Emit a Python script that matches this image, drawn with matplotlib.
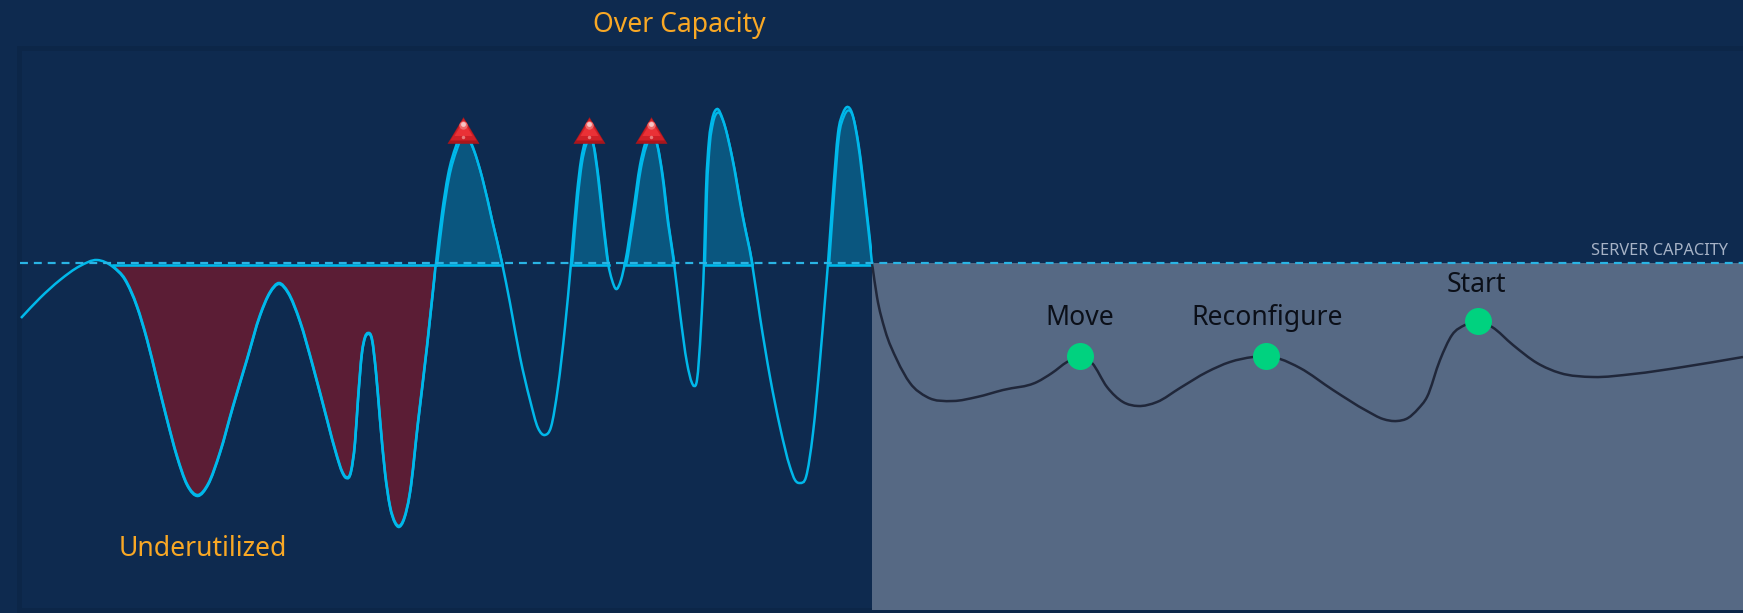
import matplotlib
matplotlib.use('Agg')
import matplotlib.pyplot as plt
from matplotlib.patches import PathPatch, Rectangle
from matplotlib.path import Path
import numpy as np

# values, y runs downwards like in the image
load_x = [21, 40, 60, 80, 97, 113, 125, 137, 147, 157, 167, 177, 187, 198, 208, 220, 233, 247, 260, 270,
          279, 288, 300, 313, 327, 337, 342, 346, 351, 355, 358, 362, 365, 368, 372, 376, 380, 385, 390, 395,
          399, 403, 410, 418, 427, 436, 442, 448, 456, 463, 472, 482, 492, 502, 510, 520, 530, 538, 545, 551,
          558, 565, 571, 577, 581, 585, 589, 593, 598, 603, 608, 612, 616, 621, 625, 633, 640, 645, 651, 657,
          662, 668, 674, 680, 687, 692, 694, 697, 701, 704, 706, 709, 712, 717, 723, 732, 742, 752, 760, 770,
          780, 790, 795, 800, 806, 813, 820, 825, 828, 833, 838, 843, 847, 852, 858, 865, 872]
load_y = [318, 298, 280, 266, 260, 267, 280, 307, 340, 380, 420, 457, 485, 496, 485, 453, 407, 360, 316, 293,
          284, 293, 322, 367, 420, 457, 472, 478, 472, 443, 400, 353, 338, 334, 340, 373, 420, 473, 507, 523,
          527, 522, 493, 423, 347, 263, 213, 175, 146, 131, 145, 177, 220, 263, 303, 357, 400, 428, 435, 427,
          387, 327, 263, 193, 160, 142, 135, 143, 177, 223, 263, 280, 289, 280, 263, 213, 165, 144, 133, 144,
          173, 223, 263, 313, 363, 383, 386, 380, 327, 263, 190, 140, 120, 109, 120, 157, 213, 263, 317, 377,
          427, 467, 480, 483, 477, 433, 360, 300, 263, 193, 133, 113, 107, 113, 143, 200, 263]

server_x = [872, 877, 885, 897, 910, 927, 953, 977, 1003, 1037, 1052, 1067, 1080, 1092, 1107, 1123, 1138, 1157,
            1180, 1207, 1230, 1253, 1266, 1280, 1300, 1333, 1367, 1383, 1397, 1408, 1418, 1427, 1440, 1452, 1465,
            1478, 1492, 1513, 1537, 1560, 1593, 1633, 1683, 1743]
server_y = [263, 297, 330, 360, 383, 397, 401, 397, 390, 382, 373, 362, 356, 363, 387, 402, 406, 402,
            388, 372, 362, 357, 356, 359, 368, 390, 411, 419, 421, 418, 409, 397, 360, 335, 325,
            321, 327, 345, 363, 373, 377, 374, 367, 357]

capacity = 263
base = 265
bottom = 610
under_start = 113
under_end = 436
over_end = 872

event_names = ['Move', 'Reconfigure', 'Start']
event_x = [1080, 1266, 1478]
event_y = [356, 356, 321]

alert_x = [463, 589, 651]
alert_y = [130, 130, 130]

bg = '#0e2a4f'
cyan = '#00b8ea'
orange = '#f9a825'

load_x = np.array(load_x, dtype=float)
load_y = np.array(load_y, dtype=float)


def smooth_verts(x, y):
    # bezier segments between the read points, tangents taken from the neighbours
    x = np.asarray(x, dtype=float)
    y = np.asarray(y, dtype=float)
    h = np.diff(x)
    t = np.gradient(y, x)
    verts = [(x[0], y[0])]
    for i in range(len(h)):
        verts.append((x[i] + h[i] / 3, y[i] + t[i] * h[i] / 3))
        verts.append((x[i + 1] - h[i] / 3, y[i + 1] - t[i + 1] * h[i] / 3))
        verts.append((x[i + 1], y[i + 1]))
    return verts


def curve_path(x, y, close_at=None):
    verts = smooth_verts(x, y)
    codes = [Path.MOVETO] + [Path.CURVE4] * (len(verts) - 1)
    if close_at is not None:
        verts = verts + [(x[-1], close_at), (x[0], close_at), (x[0], y[0])]
        codes = codes + [Path.LINETO, Path.LINETO, Path.CLOSEPOLY]
    return Path(verts, codes)


def crossings(x, y, level):
    # x positions where the read series passes the level
    out = []
    for i in range(len(x) - 1):
        if (y[i] - level) * (y[i + 1] - level) < 0:
            out.append(x[i] + (level - y[i]) / (y[i + 1] - y[i]) * (x[i + 1] - x[i]))
    return out


fig = plt.figure(figsize=(17.43, 6.13), dpi=100, facecolor=bg)
ax = fig.add_axes([0, 0, 1, 1])
ax.set_xlim(0, 1743)
ax.set_ylim(613, 0)
ax.axis('off')
px = 72 / fig.dpi

# panel with its faint darker border
ax.add_patch(Rectangle((19, 48), 1730, 562, fc=bg, ec='#0c2648', lw=5 * px, zorder=1))

# server area on the right
ax.fill_between(server_x, capacity, bottom, color='#566984', lw=0, zorder=2)

under = (load_x >= under_start) & (load_x <= under_end)
over = load_x >= under_end
under_clip = Rectangle((under_start, base), under_end - under_start, bottom - base, transform=ax.transData)
over_clip = Rectangle((under_end, 0), over_end - under_end, base, transform=ax.transData)

# under and over capacity areas, clipped to their side of the capacity line
under_fill = ax.add_patch(PathPatch(curve_path(load_x[under], load_y[under], base), fc='#5b1d35', ec='none', zorder=3))
under_fill.set_clip_path(under_clip)
over_fill = ax.add_patch(PathPatch(curve_path(load_x[over], load_y[over], base), fc='#0a567f', ec='none', zorder=3))
over_fill.set_clip_path(over_clip)

# area outlines sit a bit off the line, which makes the doubled look at the tops
under_edge = ax.add_patch(PathPatch(curve_path(load_x[under], load_y[under] - 1), fc='none', ec=cyan, lw=2.6 * px, zorder=4))
under_edge.set_clip_path(under_clip)
over_edge = ax.add_patch(PathPatch(curve_path(load_x[over] + 1, load_y[over] + 3.5), fc='none', ec=cyan, lw=2.2 * px, zorder=4))
over_edge.set_clip_path(over_clip)

# solid bottom edge of every area
ax.plot([under_start, under_end], [base, base], color=cyan, lw=2.6 * px, zorder=4)
xs = crossings(load_x[over], load_y[over] - 0.5, base)
xs = [under_end] + xs + [over_end]
for a, b in zip(xs[::2], xs[1::2]):
    ax.plot([a, b], [base, base], color=cyan, lw=2.6 * px, zorder=4)

ax.add_patch(PathPatch(curve_path(load_x, load_y), fc='none', ec=cyan, lw=2.5 * px, zorder=4))
ax.add_patch(PathPatch(curve_path(server_x, server_y), fc='none', ec='#20273a', lw=2.5 * px, zorder=4))

ax.plot([20, 1743], [capacity, capacity], color='#2ab4e4', lw=2.2 * px, dashes=(3.6, 2.7), zorder=5)

# red alert triangles
shape = [(0, 1), (-1.2, -1), (1.2, -1)]
ax.plot(alert_x, alert_y, ls='none', marker=shape, ms=23, mfc='#a8161c', mec='none', zorder=6)
ax.plot(alert_x, [v - 1 for v in alert_y], ls='none', marker=shape, ms=19, mfc='#cf2027', mec='none', zorder=6)
ax.plot(alert_x, [v - 2 for v in alert_y], ls='none', marker=shape, ms=13, mfc='#ea3136', mec='none', zorder=6)
ax.plot(alert_x, [v - 5 for v in alert_y], ls='none', marker='o', ms=6, mfc='#f06a6a', mec='none', zorder=6)
ax.plot(alert_x, [v - 6 for v in alert_y], ls='none', marker='o', ms=3.5, mfc='#f7c4c4', mec='none', zorder=6)
ax.plot(alert_x, [v + 7 for v in alert_y], ls='none', marker='o', ms=2.5, mfc='#e87a7a', mec='none', zorder=6)

# events on the server line
ax.scatter(event_x, event_y, s=(27 * px) ** 2, color='#00d27f', lw=0, zorder=7)

font = 'Noto Sans'
text_size = 26.5 * px
for name, tx, ty in zip(event_names, [1080, 1267, 1476], [325, 325, 292]):
    ax.text(tx, ty, name, color='#0b0f18', fontsize=text_size, family=font, ha='center', va='baseline', zorder=8)

ax.text(679.5, 32, 'Over Capacity', color=orange, fontsize=text_size, family=font, ha='center', va='baseline')
ax.text(202.5, 556, 'Underutilized', color=orange, fontsize=text_size, family=font, ha='center', va='baseline')
ax.text(1728, 255, 'SERVER CAPACITY', color='#a6b2c6', fontsize=16.3 * px, family=font, weight='medium', ha='right', va='baseline')

plt.savefig('out.png', dpi=100, facecolor=bg)
